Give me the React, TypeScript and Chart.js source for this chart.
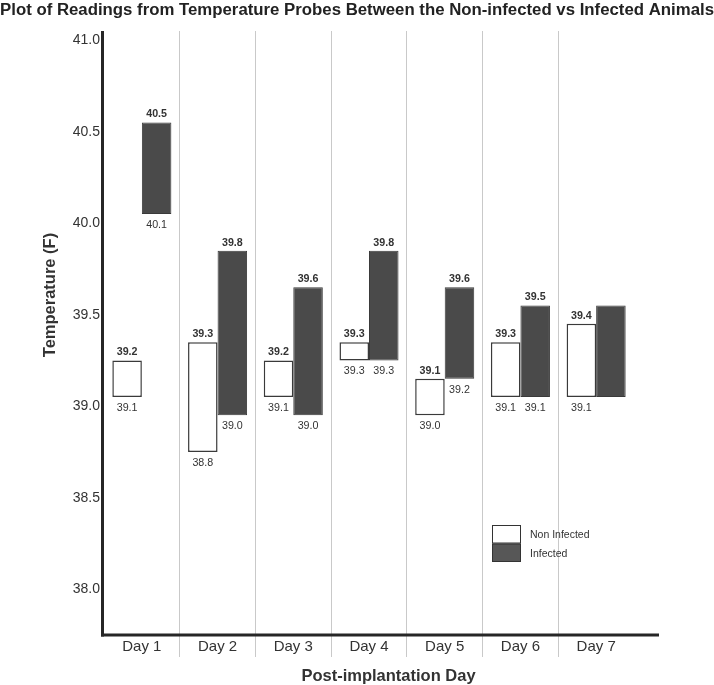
import React, { useEffect, useRef } from 'react';
import { Chart, registerables } from 'chart.js';

Chart.register(...registerables);

const FONT = "'Liberation Sans', Arial, Helvetica, sans-serif";

// ---- data ----
const days = ['Day 1', 'Day 2', 'Day 3', 'Day 4', 'Day 5', 'Day 6', 'Day 7'];
const nonInfectedLow = [39.05, 38.75, 39.05, 39.25, 38.95, 39.05, 39.05];
const nonInfectedHigh = [39.25, 39.35, 39.25, 39.35, 39.15, 39.35, 39.45];
const infectedLow = [40.05, 38.95, 38.95, 39.25, 39.15, 39.05, 39.05];
const infectedHigh = [40.55, 39.85, 39.65, 39.85, 39.65, 39.55, 39.55];
const nonInfectedTopLabels = ['39.2', '39.3', '39.2', '39.3', '39.1', '39.3', '39.4'];
const nonInfectedBottomLabels = ['39.1', '38.8', '39.1', '39.3', '39.0', '39.1', '39.1'];
const infectedTopLabels = ['40.5', '39.8', '39.6', '39.8', '39.6', '39.5', ''];
const infectedBottomLabels = ['40.1', '39.0', '39.0', '39.3', '39.2', '39.1', ''];
const yTicks = [38.0, 38.5, 39.0, 39.5, 40.0, 40.5, 41.0];
const seriesNames = ['Non Infected', 'Infected'];

const TEXT = '#333333';

const decorPlugin = {
  id: 'decor',
  afterDraw(chart: any) {
    const { ctx, chartArea } = chart;
    const { left, right, top, bottom } = chartArea;
    ctx.save();

    // data labels
    const topLabels = [nonInfectedTopLabels, infectedTopLabels];
    const bottomLabels = [nonInfectedBottomLabels, infectedBottomLabels];
    ctx.fillStyle = TEXT;
    ctx.textAlign = 'center';
    ctx.textBaseline = 'middle';
    for (let d = 0; d < 2; d++) {
      const meta = chart.getDatasetMeta(d);
      meta.data.forEach((el: any, i: number) => {
        const yTop = Math.min(el.y, el.base);
        const yBot = Math.max(el.y, el.base);
        ctx.font = `bold 10.7px ${FONT}`;
        if (topLabels[d][i]) ctx.fillText(topLabels[d][i], el.x, yTop - 8);
        ctx.font = `10.7px ${FONT}`;
        if (bottomLabels[d][i]) ctx.fillText(bottomLabels[d][i], el.x, yBot + 11);
      });
    }

    // axis lines
    ctx.strokeStyle = '#262626';
    ctx.lineWidth = 3;
    ctx.beginPath();
    ctx.moveTo(left - 1.5, top);
    ctx.lineTo(left - 1.5, bottom + 1.5);
    ctx.stroke();
    ctx.beginPath();
    ctx.moveTo(left - 3, bottom);
    ctx.lineTo(right + 25, bottom);
    ctx.stroke();

    // title
    ctx.fillStyle = '#222222';
    ctx.font = `bold 16.8px ${FONT}`;
    ctx.textAlign = 'center';
    ctx.textBaseline = 'alphabetic';
    ctx.fillText('Plot of Readings from Temperature Probes Between the Non-infected vs Infected Animals', 357, 15);

    // axis titles
    ctx.fillStyle = TEXT;
    ctx.font = `bold 16.5px ${FONT}`;
    ctx.textBaseline = 'middle';
    ctx.fillText('Post-implantation Day', 388.5, 676.5);
    ctx.save();
    ctx.translate(50, 295);
    ctx.rotate(-Math.PI / 2);
    ctx.fillText('Temperature (F)', 0, 0);
    ctx.restore();

    // legend
    const lx = 492, ly = 525, lw = 29, lh = 18.5;
    ctx.lineWidth = 1;
    ctx.strokeStyle = '#333333';
    ctx.fillStyle = '#ffffff';
    ctx.fillRect(lx, ly, lw, lh);
    ctx.strokeRect(lx + 0.5, ly + 0.5, lw - 1, lh - 1);
    ctx.fillStyle = '#575757';
    ctx.fillRect(lx, ly + lh, lw, lh);
    ctx.strokeRect(lx + 0.5, ly + lh + 0.5, lw - 1, lh - 1);
    ctx.fillStyle = TEXT;
    ctx.font = `10.5px ${FONT}`;
    ctx.textAlign = 'left';
    ctx.fillText(seriesNames[0], 530, ly + lh / 2 + 1);
    ctx.fillText(seriesNames[1], 530, ly + lh * 1.5 + 1);

    ctx.restore();
  },
};

export default function App() {
  const ref = useRef<HTMLCanvasElement>(null);
  useEffect(() => {
    const chart = new Chart(ref.current as HTMLCanvasElement, {
      type: 'bar',
      data: {
        labels: days,
        datasets: [
          {
            label: seriesNames[0],
            data: days.map((_, i) => [nonInfectedLow[i], nonInfectedHigh[i]]) as any,
            backgroundColor: '#ffffff',
            borderColor: '#3a3a3a',
            borderWidth: 1.5,
            borderSkipped: false,
            categoryPercentage: 0.78,
            barPercentage: 1.0,
          },
          {
            label: seriesNames[1],
            data: days.map((_, i) => [infectedLow[i], infectedHigh[i]]) as any,
            backgroundColor: '#4a4a4a',
            borderColor: '#3a3a3a',
            borderWidth: 1,
            borderSkipped: false,
            categoryPercentage: 0.78,
            barPercentage: 1.0,
          },
        ],
      },
      options: {
        animation: false,
        responsive: true,
        maintainAspectRatio: false,
        layout: { padding: { top: 31, right: 80, left: 0, bottom: 0 } },
        plugins: {
          legend: { display: false },
          tooltip: { enabled: false },
          title: { display: false },
        },
        scales: {
          x: {
            type: 'category',
            offset: true,
            afterFit: (scale: any) => {
              scale.height = 50;
            },
            border: { display: false },
            grid: {
              offset: true,
              drawTicks: true,
              tickLength: 22,
              lineWidth: 1,
              color: (ctx: any) =>
                ctx.index === undefined || ctx.index === 0 ? 'rgba(0,0,0,0)' : '#c9c9c9',
            },
            ticks: {
              padding: -19,
              color: TEXT,
              font: { family: FONT, size: 15 },
              maxRotation: 0,
            },
          },
          y: {
            type: 'linear',
            min: 37.75,
            max: 41.05,
            afterFit: (scale: any) => {
              scale.width = 104;
            },
            afterBuildTicks: (scale: any) => {
              scale.ticks = yTicks.map((v) => ({ value: v }));
            },
            border: { display: false },
            grid: { display: false, drawTicks: false },
            ticks: {
              padding: 4,
              color: TEXT,
              font: { family: FONT, size: 14 },
              callback: (v: any) => Number(v).toFixed(1),
            },
          },
        },
      },
      plugins: [decorPlugin],
    });
    return () => chart.destroy();
  }, []);
  return (
    <div style={{ position: 'absolute', left: 0, top: 0, width: 714, height: 685, background: '#fff' }}>
      <canvas ref={ref} />
    </div>
  );
}
